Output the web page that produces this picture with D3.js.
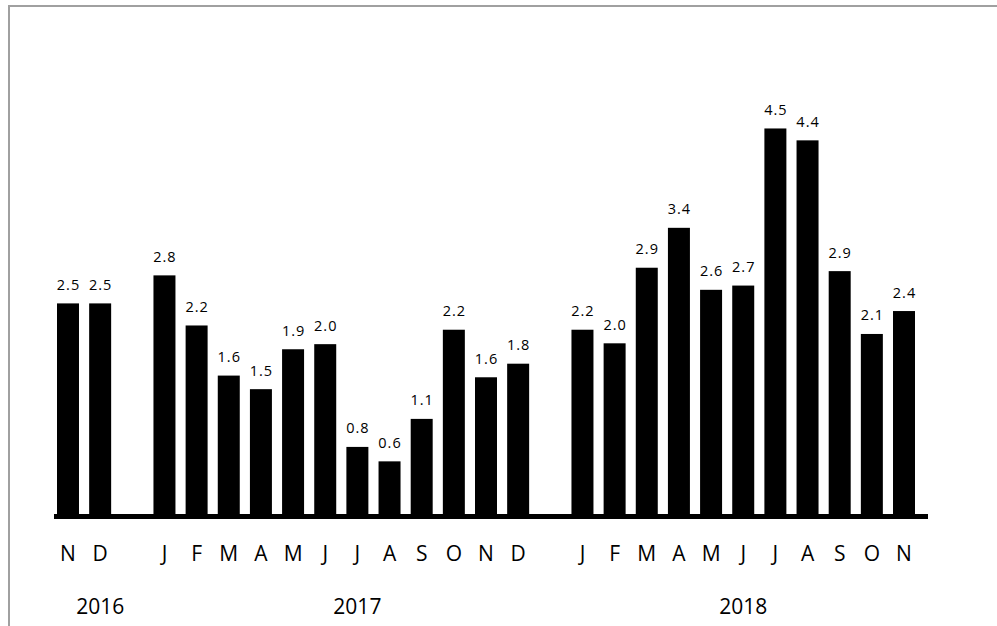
<!DOCTYPE html>
<html>
<head>
<meta charset="utf-8">
<script src="https://cdn.jsdelivr.net/npm/d3@7"></script>
<style>
  body { margin: 0; background: #fff; }
  text { font-family: 'Open Sans', sans-serif; fill: #000; }
</style>
</head>
<body>
<svg width="997" height="626"></svg>
<script>
const years = ['2016', '2017', '2018'];
const months2016 = ['N', 'D'];
const values2016 = [2.48, 2.48];
const months2017 = ['J', 'F', 'M', 'A', 'M', 'J', 'J', 'A', 'S', 'O', 'N', 'D'];
const values2017 = [2.81, 2.22, 1.63, 1.47, 1.94, 2.00, 0.79, 0.62, 1.12, 2.17, 1.61, 1.77];
const months2018 = ['J', 'F', 'M', 'A', 'M', 'J', 'J', 'A', 'S', 'O', 'N'];
const values2018 = [2.17, 2.01, 2.90, 3.37, 2.64, 2.69, 4.54, 4.40, 2.86, 2.12, 2.39];

const groups = [
  {year: years[0], months: months2016, values: values2016},
  {year: years[1], months: months2017, values: values2017},
  {year: years[2], months: months2018, values: values2018}
];

// one slot per month, plus an empty slot between years
const slots = [];
const bars = [];
groups.forEach((g, gi) => {
  g.months.forEach((m, i) => {
    const key = `${g.year}-${i}`;
    slots.push(key);
    bars.push({key, month: m, value: g.values[i]});
  });
  if (gi < groups.length - 1) slots.push(`gap-${gi}`);
});

const svg = d3.select('svg');

// frame (top and left edges only)
svg.append('path')
  .attr('d', 'M9,626V6H997')
  .attr('fill', 'none')
  .attr('stroke', '#a0a0a0')
  .attr('stroke-width', 2);

const x = d3.scaleBand()
  .domain(slots)
  .range([57, 915])
  .paddingInner(0.316)
  .paddingOuter(0);

const y = d3.scaleLinear()
  .domain([0, 5])
  .range([514, 89.4]);

svg.append('g')
  .selectAll('rect')
  .data(bars)
  .enter().append('rect')
    .attr('x', d => x(d.key))
    .attr('y', d => y(d.value))
    .attr('width', x.bandwidth())
    .attr('height', d => y(0) - y(d.value))
    .attr('fill', '#000');

svg.append('g')
  .selectAll('text')
  .data(bars)
  .enter().append('text')
    .attr('x', d => x(d.key) + x.bandwidth() / 2 + 0.5)
    .attr('y', d => y(d.value) - 13.5)
    .attr('text-anchor', 'middle')
    .attr('font-size', '14.5px')
    .attr('letter-spacing', '1px')
    .text(d => d.value.toFixed(1));

// thick baseline
svg.append('line')
  .attr('x1', x.range()[0] - 3)
  .attr('x2', x.range()[1] + 13)
  .attr('y1', y(0) + 2.5)
  .attr('y2', y(0) + 2.5)
  .attr('stroke', '#000')
  .attr('stroke-width', 5);

// month letters
svg.append('g')
  .selectAll('text')
  .data(bars)
  .enter().append('text')
    .attr('x', d => x(d.key) + x.bandwidth() / 2)
    .attr('y', 561)
    .attr('text-anchor', 'middle')
    .attr('font-size', '21px')
    .text(d => d.month);

// year labels under the middle month of each group
svg.append('g')
  .selectAll('text')
  .data(groups)
  .enter().append('text')
    .attr('x', d => x(`${d.year}-${Math.floor(d.months.length / 2)}`) + x.bandwidth() / 2)
    .attr('y', 614)
    .attr('text-anchor', 'middle')
    .attr('font-size', '21px')
    .text(d => d.year);
</script>
</body>
</html>
